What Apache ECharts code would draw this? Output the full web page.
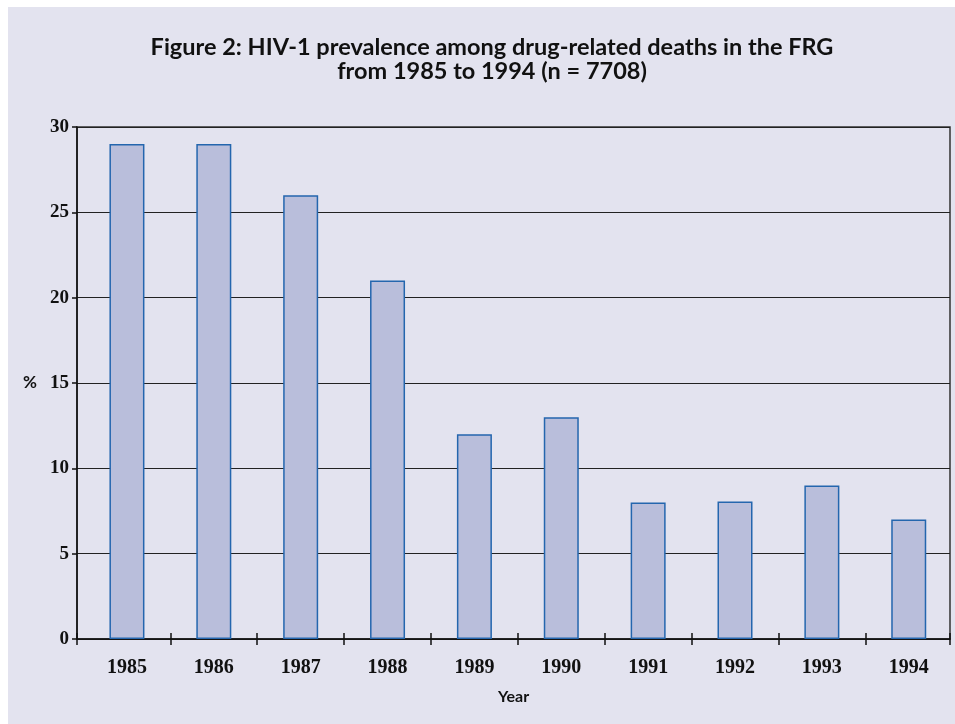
<!DOCTYPE html>
<html>
<head>
<meta charset="utf-8">
<script src="https://cdn.jsdelivr.net/npm/echarts@6/dist/echarts.min.js"></script>
<style>
    html, body { margin: 0; padding: 0; background: #ffffff; }
    #main { position: absolute; left: 8px; top: 7px; width: 947px; height: 717px; }
</style>
</head>
<body>
<div id="main"></div>
<script>
// 年份
var years = ['1985', '1986', '1987', '1988', '1989', '1990', '1991', '1992', '1993', '1994'];
// HIV-1 阳性比例 (%)
var prevalence = [29, 29, 26, 21, 12, 13, 8, 8.05, 9, 7];
var yTicks = [0, 5, 10, 15, 20, 25, 30];
var titleLines = ['Figure 2: HIV-1 prevalence among drug-related deaths in the FRG', 'from 1985 to 1994 (n = 7708)'];

var chart = echarts.init(document.getElementById('main'));
var labelFont = '"Liberation Serif", serif';
var titleFont = 'Lato, "Open Sans", sans-serif';

// x 轴范围：柱子在整数位置
var xMin = -0.575, xMax = 9.475;
var barIdx = [], tickPos = [xMin], barData = [];
for (var i = 0; i < years.length; i++) {
    barIdx.push(i);
    if (i < years.length - 1) tickPos.push(i + 0.5);
    barData.push([i, prevalence[i]]);
}
tickPos.push(xMax);

var tickStyle = { color: '#111111', width: 1.5 };

var option = {
    backgroundColor: '#e3e3ef',
    animation: false,
    title: {
        text: titleLines.join('\n'),
        left: 479,
        textAlign: 'center',
        top: 23,
        textStyle: {
            fontFamily: titleFont,
            fontWeight: 'bold',
            fontSize: 23.5,
            lineHeight: 24,
            color: '#111111'
        }
    },
    grid: {
        left: 69,
        right: 5,
        top: 120,
        bottom: 85,
        show: true,
        borderColor: '#333333',
        borderWidth: 1.5,
        backgroundColor: 'transparent'
    },
    xAxis: [
        {
            type: 'value',
            min: xMin,
            max: xMax,
            position: 'bottom',
            name: 'Year',
            nameLocation: 'middle',
            nameGap: 50,
            nameTextStyle: { fontFamily: titleFont, fontWeight: 'bold', fontSize: 16, color: '#111111' },
            axisLine: { show: true, onZero: false, lineStyle: { color: '#111111', width: 1.5 } },
            axisTick: { show: true, length: 6, customValues: tickPos, lineStyle: tickStyle },
            axisLabel: {
                margin: 19,
                customValues: barIdx,
                fontFamily: labelFont, fontWeight: 'bold', fontSize: 20, color: '#111111',
                formatter: function (v) { return years[Math.round(v)]; }
            },
            splitLine: { show: false }
        },
        {
            // 顶部轴贴到 y=0，刻度向上，与底部刻度合成十字
            type: 'value',
            min: xMin,
            max: xMax,
            position: 'top',
            axisLine: { show: true, onZero: true, lineStyle: { color: '#111111', width: 1.5, opacity: 0 } },
            axisTick: { show: true, length: 6, customValues: tickPos, lineStyle: tickStyle },
            axisLabel: { show: false },
            splitLine: { show: false }
        }
    ],
    yAxis: {
        type: 'value',
        min: yTicks[0],
        max: yTicks[yTicks.length - 1],
        interval: 5,
        name: '%',
        nameLocation: 'middle',
        nameRotate: 0,
        nameGap: 40,
        nameTextStyle: { fontFamily: titleFont, fontWeight: 'bold', fontSize: 17, color: '#111111', align: 'right', verticalAlign: 'middle' },
        axisLine: { show: true, onZero: false, lineStyle: { color: '#111111', width: 1.5 } },
        axisTick: { show: true, length: 5, lineStyle: tickStyle },
        axisLabel: { margin: 8, fontFamily: labelFont, fontWeight: 'bold', fontSize: 19, color: '#111111' },
        splitLine: { show: true, lineStyle: { color: '#222222', width: 1.2 } }
    },
    series: [
        {
            type: 'bar',
            xAxisIndex: 0,
            data: barData,
            barWidth: 35,
            itemStyle: {
                color: '#b9bedb',
                borderColor: '#2466ae',
                borderWidth: 1.5
            }
        }
    ]
};
chart.setOption(option);
</script>
</body>
</html>
